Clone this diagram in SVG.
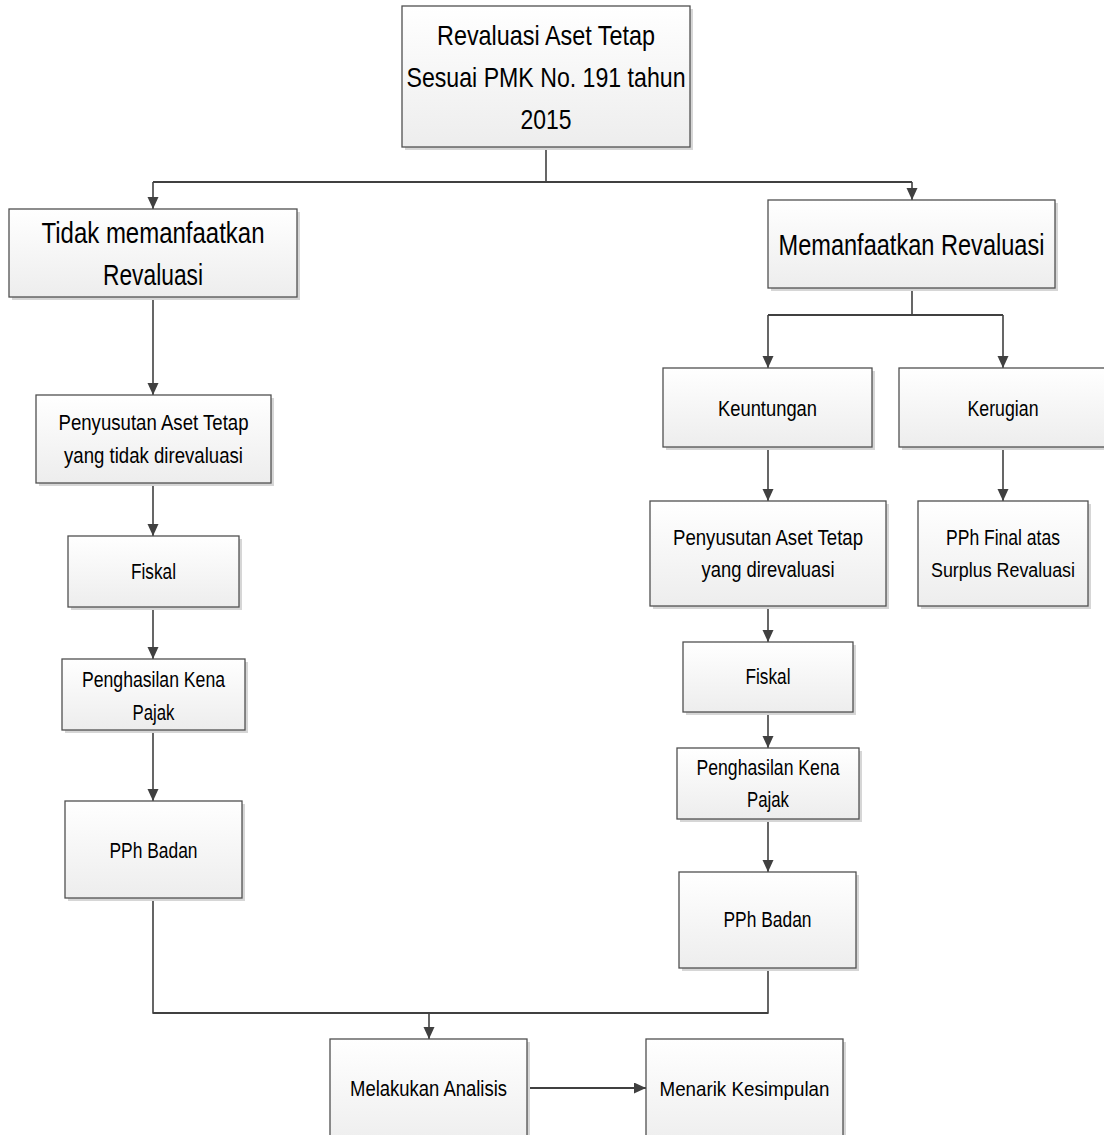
<svg xmlns="http://www.w3.org/2000/svg" width="1104" height="1135" viewBox="0 0 1104 1135">
<style>
.box{fill:url(#g);stroke:#505050;stroke-width:1.3}
.sh{fill:#d6d6d6}
.t{font-family:"Liberation Sans",Arial,sans-serif;fill:#000;text-anchor:middle}
.s20{font-size:20px}
.s21{font-size:21px}
.s22{font-size:22px}
.s28{font-size:28px}
.s29{font-size:29px}
.c{fill:none;stroke:#404040;stroke-width:1.6}
.c2{fill:none;stroke:#404040;stroke-width:2.2}
</style>
<defs>
<linearGradient id="g" x1="0" y1="0" x2="0" y2="1">
<stop offset="0" stop-color="#ffffff"/>
<stop offset="1" stop-color="#ededed"/>
</linearGradient>
<marker id="a" markerUnits="userSpaceOnUse" markerWidth="12" markerHeight="14" refX="12" refY="5.5" orient="auto">
<path d="M0,0 L12,5.5 L0,11 Z" fill="#404040"/>
</marker>
</defs>
<rect width="1104" height="1135" fill="#fff"/>

<g id="connectors">
<path class="c" d="M546,147 V182"/>
<path class="c2" d="M153,182 H912"/>
<path class="c" d="M153,182 V209" marker-end="url(#a)"/>
<path class="c" d="M912,182 V200" marker-end="url(#a)"/>
<path class="c" d="M153,297 V395" marker-end="url(#a)"/>
<path class="c" d="M153,483 V536" marker-end="url(#a)"/>
<path class="c" d="M153,607 V659" marker-end="url(#a)"/>
<path class="c" d="M153,730 V801" marker-end="url(#a)"/>
<path class="c" d="M912,288 V315"/>
<path class="c2" d="M768,315 H1003"/>
<path class="c" d="M768,315 V368" marker-end="url(#a)"/>
<path class="c" d="M1003,315 V368" marker-end="url(#a)"/>
<path class="c" d="M768,447 V501" marker-end="url(#a)"/>
<path class="c" d="M1003,447 V501" marker-end="url(#a)"/>
<path class="c" d="M768,606 V642" marker-end="url(#a)"/>
<path class="c" d="M768,712 V748" marker-end="url(#a)"/>
<path class="c" d="M768,819 V872" marker-end="url(#a)"/>
<path class="c" d="M153,898 V1013 H768 V968"/>
<path class="c2" d="M153,1013 H768"/>
<path class="c" d="M429,1013 V1039" marker-end="url(#a)"/>
<path class="c2" d="M528,1088 H646" marker-end="url(#a)"/>
</g>

<g id="n-top">
<rect class="sh" x="405" y="9" width="288" height="141"/>
<rect class="box" x="402" y="6" width="288" height="141"/>
<text class="t s28" x="546" y="45" textLength="218" lengthAdjust="spacingAndGlyphs">Revaluasi Aset Tetap</text>
<text class="t s28" x="546" y="87" textLength="279" lengthAdjust="spacingAndGlyphs">Sesuai PMK No. 191 tahun</text>
<text class="t s28" x="546" y="129" textLength="51" lengthAdjust="spacingAndGlyphs">2015</text>
</g>

<g id="n-tidak">
<rect class="sh" x="12" y="212" width="288" height="88"/>
<rect class="box" x="9" y="209" width="288" height="88"/>
<text class="t s29" x="153" y="243" textLength="223" lengthAdjust="spacingAndGlyphs">Tidak memanfaatkan</text>
<text class="t s29" x="153" y="285" textLength="100" lengthAdjust="spacingAndGlyphs">Revaluasi</text>
</g>

<g id="n-memanfaatkan">
<rect class="sh" x="771" y="203" width="287" height="88"/>
<rect class="box" x="768" y="200" width="287" height="88"/>
<text class="t s29" x="911.5" y="255" textLength="266" lengthAdjust="spacingAndGlyphs">Memanfaatkan Revaluasi</text>
</g>

<g id="n-penyusutan-l">
<rect class="sh" x="39" y="398" width="235" height="88"/>
<rect class="box" x="36" y="395" width="235" height="88"/>
<text class="t s22" x="153.5" y="430" textLength="190" lengthAdjust="spacingAndGlyphs">Penyusutan Aset Tetap</text>
<text class="t s22" x="153.5" y="463" textLength="179" lengthAdjust="spacingAndGlyphs">yang tidak direvaluasi</text>
</g>

<g id="n-fiskal-l">
<rect class="sh" x="71" y="539" width="171" height="71"/>
<rect class="box" x="68" y="536" width="171" height="71"/>
<text class="t s22" x="153.5" y="579" textLength="45" lengthAdjust="spacingAndGlyphs">Fiskal</text>
</g>

<g id="n-pkp-l">
<rect class="sh" x="65" y="662" width="183" height="71"/>
<rect class="box" x="62" y="659" width="183" height="71"/>
<text class="t s22" x="153.5" y="687" textLength="143" lengthAdjust="spacingAndGlyphs">Penghasilan Kena</text>
<text class="t s22" x="153.5" y="720" textLength="42" lengthAdjust="spacingAndGlyphs">Pajak</text>
</g>

<g id="n-pph-l">
<rect class="sh" x="68" y="804" width="177" height="97"/>
<rect class="box" x="65" y="801" width="177" height="97"/>
<text class="t s22" x="153.5" y="858" textLength="88" lengthAdjust="spacingAndGlyphs">PPh Badan</text>
</g>

<g id="n-keuntungan">
<rect class="sh" x="666" y="371" width="209" height="79"/>
<rect class="box" x="663" y="368" width="209" height="79"/>
<text class="t s22" x="767.5" y="416" textLength="99" lengthAdjust="spacingAndGlyphs">Keuntungan</text>
</g>

<g id="n-kerugian">
<rect class="sh" x="902" y="371" width="208" height="79"/>
<rect class="box" x="899" y="368" width="208" height="79"/>
<text class="t s22" x="1003" y="416" textLength="71" lengthAdjust="spacingAndGlyphs">Kerugian</text>
</g>

<g id="n-penyusutan-r">
<rect class="sh" x="653" y="504" width="236" height="105"/>
<rect class="box" x="650" y="501" width="236" height="105"/>
<text class="t s22" x="768" y="545" textLength="190" lengthAdjust="spacingAndGlyphs">Penyusutan Aset Tetap</text>
<text class="t s22" x="768" y="577" textLength="133" lengthAdjust="spacingAndGlyphs">yang direvaluasi</text>
</g>

<g id="n-pphfinal">
<rect class="sh" x="921" y="504" width="170" height="105"/>
<rect class="box" x="918" y="501" width="170" height="105"/>
<text class="t s22" x="1003" y="545" textLength="114" lengthAdjust="spacingAndGlyphs">PPh Final atas</text>
<text class="t s20" x="1003" y="577" textLength="144" lengthAdjust="spacingAndGlyphs">Surplus Revaluasi</text>
</g>

<g id="n-fiskal-r">
<rect class="sh" x="686" y="645" width="170" height="70"/>
<rect class="box" x="683" y="642" width="170" height="70"/>
<text class="t s22" x="768" y="684" textLength="45" lengthAdjust="spacingAndGlyphs">Fiskal</text>
</g>

<g id="n-pkp-r">
<rect class="sh" x="680" y="751" width="182" height="71"/>
<rect class="box" x="677" y="748" width="182" height="71"/>
<text class="t s22" x="768" y="775" textLength="143" lengthAdjust="spacingAndGlyphs">Penghasilan Kena</text>
<text class="t s22" x="768" y="807" textLength="42" lengthAdjust="spacingAndGlyphs">Pajak</text>
</g>

<g id="n-pph-r">
<rect class="sh" x="682" y="875" width="177" height="96"/>
<rect class="box" x="679" y="872" width="177" height="96"/>
<text class="t s22" x="767.5" y="927" textLength="88" lengthAdjust="spacingAndGlyphs">PPh Badan</text>
</g>

<g id="n-analisis">
<rect class="sh" x="333" y="1042" width="197" height="110"/>
<rect class="box" x="330" y="1039" width="197" height="110"/>
<text class="t s22" x="428.5" y="1096" textLength="157" lengthAdjust="spacingAndGlyphs">Melakukan Analisis</text>
</g>

<g id="n-kesimpulan">
<rect class="sh" x="649" y="1042" width="197" height="110"/>
<rect class="box" x="646" y="1039" width="197" height="110"/>
<text class="t s21" x="744.5" y="1096" textLength="170" lengthAdjust="spacingAndGlyphs">Menarik Kesimpulan</text>
</g>
</svg>
